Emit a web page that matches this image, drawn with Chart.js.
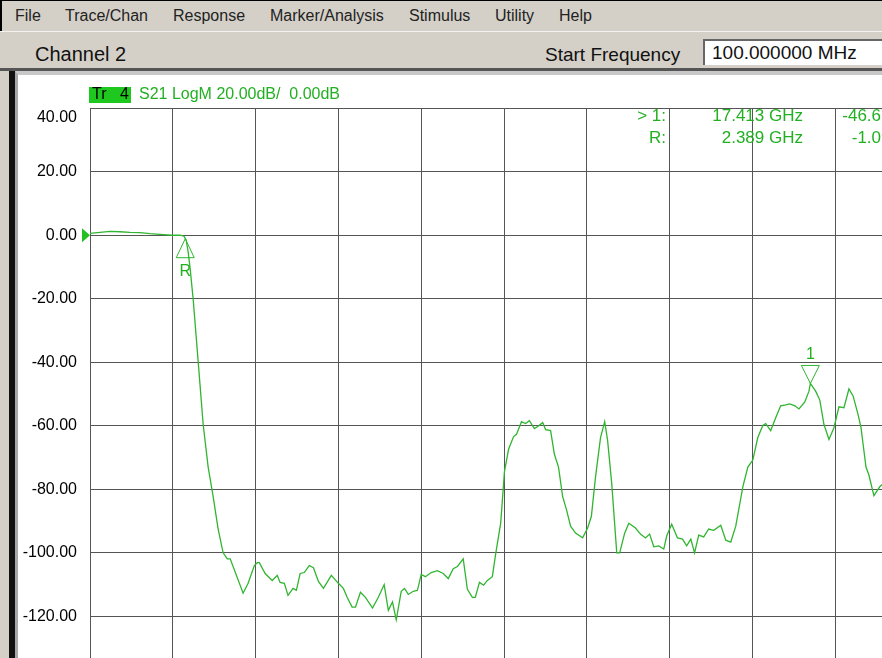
<!DOCTYPE html>
<html>
<head>
<meta charset="utf-8">
<script src="https://cdn.jsdelivr.net/npm/chart.js@4.4.0/dist/chart.umd.min.js"></script>
<style>
  html, body { margin: 0; padding: 0; }
  body {
    width: 882px; height: 658px; overflow: hidden; position: relative;
    background: #d4d0c8; font-family: "Liberation Sans", Arial, sans-serif;
  }
  #menu { position: absolute; left: 0; top: 0; width: 882px; height: 31px; border-top: 1px solid #000; border-left: 2px solid #000; box-sizing: border-box; }
  .mi { position: absolute; top: 6px; font-size: 16px; color: #222; white-space: pre; }
  #chanbar { position: absolute; left: 0; top: 31px; width: 882px; height: 37px; border-top: 1px solid #f4f2ee; }
  #chan { position: absolute; left: 35px; top: 11px; font-size: 20px; color: #111; }
  #startlbl { position: absolute; left: 545px; top: 12px; font-size: 19px; color: #111; }
  #startbox {
    position: absolute; left: 703px; top: 7px; width: 200px; height: 26px; background: #fff;
    border-left: 2px solid #666; border-top: 2px solid #666; box-sizing: border-box;
    font-size: 19px; color: #111; padding-left: 7px; line-height: 24px;
  }
  #sep { position: absolute; left: 0; top: 68px; width: 882px; height: 3px; background: #555; }
  #frameL { position: absolute; left: 9px; top: 71px; width: 6px; height: 600px; background: #111; }
  #panel { position: absolute; left: 15px; top: 71px; width: 870px; height: 600px; background: #fff; border-left: 3px solid #a8a8a8; border-top: 4px solid #c8c8c8; box-sizing: border-box; }
  #chart { position: absolute; left: 18px; top: 76px; }
  #trbox { position: absolute; left: 89px; top: 87px; width: 42px; height: 16px; background: #1ec81e; }
  .trt { position: absolute; top: -2px; font-size: 16px; color: #000; }
  #trtitle { position: absolute; left: 139px; top: 85px; font-size: 16px; color: #22b022; white-space: pre; }
  .ro { position: absolute; width: 200px; text-align: right; font-size: 17px; color: #22b022; white-space: pre; }
</style>
</head>
<body>
<div id="menu">
  <span class="mi" style="left:13px">File</span>
  <span class="mi" style="left:63px">Trace/Chan</span>
  <span class="mi" style="left:171px">Response</span>
  <span class="mi" style="left:268px">Marker/Analysis</span>
  <span class="mi" style="left:407px">Stimulus</span>
  <span class="mi" style="left:493px">Utility</span>
  <span class="mi" style="left:557px">Help</span>
</div>
<div id="chanbar">
  <span id="chan">Channel 2</span>
  <span id="startlbl">Start Frequency</span>
  <div id="startbox">100.000000 MHz</div>
</div>
<div id="sep"></div>
<div id="frameL"></div>
<div id="panel"></div>
<canvas id="chart" width="900" height="690"></canvas>
<div id="trbox"><span class="trt" style="left:3px">Tr</span><span class="trt" style="left:31px">4</span></div>
<div id="trtitle">S21 LogM 20.00dB/  0.00dB</div>
<div class="ro" style="left:466px; top:106px">&gt; 1:</div>
<div class="ro" style="left:603px; top:106px">17.413 GHz</div>
<div class="ro" style="left:716px; top:106px">-46.67 dB</div>
<div class="ro" style="left:466px; top:128px">R:</div>
<div class="ro" style="left:603px; top:128px">2.389 GHz</div>
<div class="ro" style="left:716px; top:128px">-1.09 dB</div>
<script>
// sweep 100 MHz .. 20 GHz, 20 dB/div, ref 0 dB
const xStart = 0.1;
const xStop = 20;
const yTicks = [40, 20, 0, -20, -40, -60, -80, -100, -120, -140, -160];

// trace S21 (GHz / dB)
const freq = [
  0.1, 0.34, 0.58, 0.82, 1.06, 1.30, 1.54, 1.78, 2.07, 2.27, 2.36, 2.41, 2.46, 2.51, 2.58, 2.70, 2.82, 2.94,
  3.06, 3.18, 3.30, 3.40, 3.47, 3.78, 3.90, 4.05, 4.12, 4.17, 4.31, 4.48, 4.60, 4.67, 4.77, 4.86, 4.98,
  5.06, 5.15, 5.25, 5.37, 5.47, 5.59, 5.71, 5.90, 6.07, 6.19, 6.28, 6.40, 6.48, 6.60, 6.72, 6.89, 7.03,
  7.17, 7.27, 7.37, 7.46, 7.58, 7.66, 7.75, 7.87, 7.97, 8.06, 8.16, 8.30, 8.45, 8.59, 8.71, 8.83, 8.93,
  9.07, 9.17, 9.29, 9.36, 9.46, 9.56, 9.65, 9.77, 9.85, 9.97, 10.04, 10.06, 10.16, 10.28, 10.35, 10.47,
  10.57, 10.66, 10.78, 10.86, 10.98, 11.05, 11.17, 11.26, 11.36, 11.46, 11.55, 11.65, 11.77, 11.94,
  12.06, 12.15, 12.25, 12.37, 12.47, 12.54, 12.64, 12.76, 12.83, 12.95, 13.05, 13.21, 13.33, 13.45,
  13.55, 13.65, 13.77, 13.89, 13.96, 14.08, 14.22, 14.34, 14.44, 14.54, 14.63, 14.73, 14.85, 14.97,
  15.09, 15.26, 15.38, 15.50, 15.62, 15.79, 15.91, 16.03, 16.15, 16.27, 16.34, 16.46, 16.58, 16.70,
  16.82, 16.92, 17.04, 17.14, 17.28, 17.38, 17.413, 17.54, 17.64, 17.74, 17.86, 17.98, 18.10, 18.22,
  18.34, 18.44, 18.56, 18.63, 18.75, 18.82, 18.94, 19.08, 19.22
];
const s21 = [
  0.6, 0.9, 1.2, 1.1, 0.9, 0.8, 0.5, 0.3, 0.0, 0.0, -0.3, -1.5, -5.3, -10.9, -20.2, -39.8, -59.6, -73.0,
  -82.3, -92.5, -100.0, -101.9, -101.9, -112.7, -109.6, -104.0, -103.1, -103.1, -106.5, -108.7, -107.1, -109.3, -109.6, -113.4, -111.2,
  -111.8, -106.5, -106.2, -104.0, -104.7, -109.0, -111.2, -107.1, -109.6, -111.2, -114.0, -117.1, -117.1, -112.4, -114.0, -117.4, -114.0,
  -110.0, -118.1, -115.5, -121.1, -112.1, -111.2, -113.1, -112.1, -111.8, -106.8, -107.5, -106.2, -105.6, -106.5, -108.1, -105.0, -104.3,
  -101.9, -111.5, -114.0, -114.0, -109.3, -110.2, -108.7, -107.5, -100.3, -90.7, -78.3, -74.5, -67.4, -63.4, -62.7, -58.7,
  -59.3, -58.4, -60.9, -60.2, -59.0, -61.2, -61.5, -68.9, -73.0, -82.3, -86.3, -91.6, -93.8, -95.3,
  -92.2, -88.5, -76.1, -63.7, -58.7, -64.6, -78.3, -100.0, -100.0, -93.8, -90.7, -92.2, -94.1, -95.3,
  -94.1, -98.1, -97.8, -98.8, -94.7, -91.0, -95.3, -95.7, -97.8, -95.7, -100.0, -94.4, -95.0, -92.5,
  -92.9, -91.3, -96.0, -96.6, -91.6, -79.2, -73.0, -70.8, -63.7, -59.9, -59.3, -61.5, -57.5, -53.7,
  -53.4, -53.1, -53.7, -54.7, -52.5, -49.1, -46.67, -49.1, -51.9, -59.6, -64.3, -60.6, -54.0, -54.3,
  -48.4, -50.6, -56.5, -60.6, -73.0, -75.5, -82.0, -79.2, -77.6
];

// markers
const markerNames = ["R", "1"];
const markerFreq = [2.389, 17.413];
const markerDb = [-1.09, -46.67];

const traceColor = "#2fb52f";

// marcadores y flecha de referencia
const markerPlugin = {
  id: "markers",
  afterDatasetsDraw(chart) {
    const ctx = chart.ctx;
    const xs = chart.scales.x;
    const ys = chart.scales.y;
    const area = chart.chartArea;
    ctx.save();
    // reference level arrow
    const y0 = ys.getPixelForValue(0);
    ctx.fillStyle = "#22c022";
    ctx.beginPath();
    ctx.moveTo(area.left - 8, y0 - 7);
    ctx.lineTo(area.left, y0);
    ctx.lineTo(area.left - 8, y0 + 7);
    ctx.closePath();
    ctx.fill();

    ctx.strokeStyle = traceColor;
    ctx.fillStyle = "#22b022";
    ctx.lineWidth = 1;
    ctx.font = "16px 'Liberation Sans', Arial, sans-serif";
    ctx.textAlign = "center";
    ctx.textBaseline = "middle";
    for (let i = 0; i < markerNames.length; i++) {
      const px = xs.getPixelForValue(markerFreq[i]);
      const py = ys.getPixelForValue(markerDb[i]);
      ctx.beginPath();
      if (markerNames[i] === "R") {
        ctx.moveTo(px, py);
        ctx.lineTo(px - 9, py + 19);
        ctx.lineTo(px + 9, py + 19);
        ctx.closePath();
        ctx.stroke();
        ctx.fillText(markerNames[i], px, py + 33);
      } else {
        ctx.moveTo(px, py);
        ctx.lineTo(px - 9, py - 18);
        ctx.lineTo(px + 9, py - 18);
        ctx.closePath();
        ctx.stroke();
        ctx.fillText(markerNames[i], px, py - 29);
      }
    }
    ctx.restore();
  },
};

new Chart(document.getElementById("chart"), {
  type: "line",
  data: {
    datasets: [
      {
        label: "S21",
        data: freq.map((f, i) => ({ x: f, y: s21[i] })),
        borderColor: traceColor,
        borderWidth: 1.3,
        pointRadius: 0,
        tension: 0,
        fill: false,
      },
    ],
  },
  options: {
    responsive: false,
    animation: false,
    events: [],
    layout: { padding: { top: 30, right: 0, bottom: 15, left: 0 } },
    plugins: { legend: { display: false }, tooltip: { enabled: false } },
    scales: {
      x: {
        type: "linear",
        min: xStart,
        max: xStop,
        afterBuildTicks(scale) {
          const step = (xStop - xStart) / 10;
          const t = [];
          for (let i = 0; i <= 10; i++) t.push({ value: xStart + i * step });
          scale.ticks = t;
        },
        ticks: { display: false },
        grid: { color: "#555", lineWidth: 1, drawTicks: false },
        border: { display: true, color: "#555" },
      },
      y: {
        min: yTicks[yTicks.length - 1],
        max: yTicks[0],
        afterFit(scale) { scale.width = 72; },
        afterBuildTicks(scale) { scale.ticks = yTicks.slice().reverse().map((v) => ({ value: v })); },
        ticks: {
          padding: 13,
          color: "#000",
          font: { family: "'Liberation Sans', Arial, sans-serif", size: 16 },
          callback: (v) => (v === yTicks[0] ? ["", v.toFixed(2)] : v.toFixed(2)),
        },
        grid: { color: "#555", lineWidth: 1, drawTicks: false },
        border: { display: true, color: "#555" },
      },
    },
  },
  plugins: [markerPlugin],
});
</script>
</body>
</html>
